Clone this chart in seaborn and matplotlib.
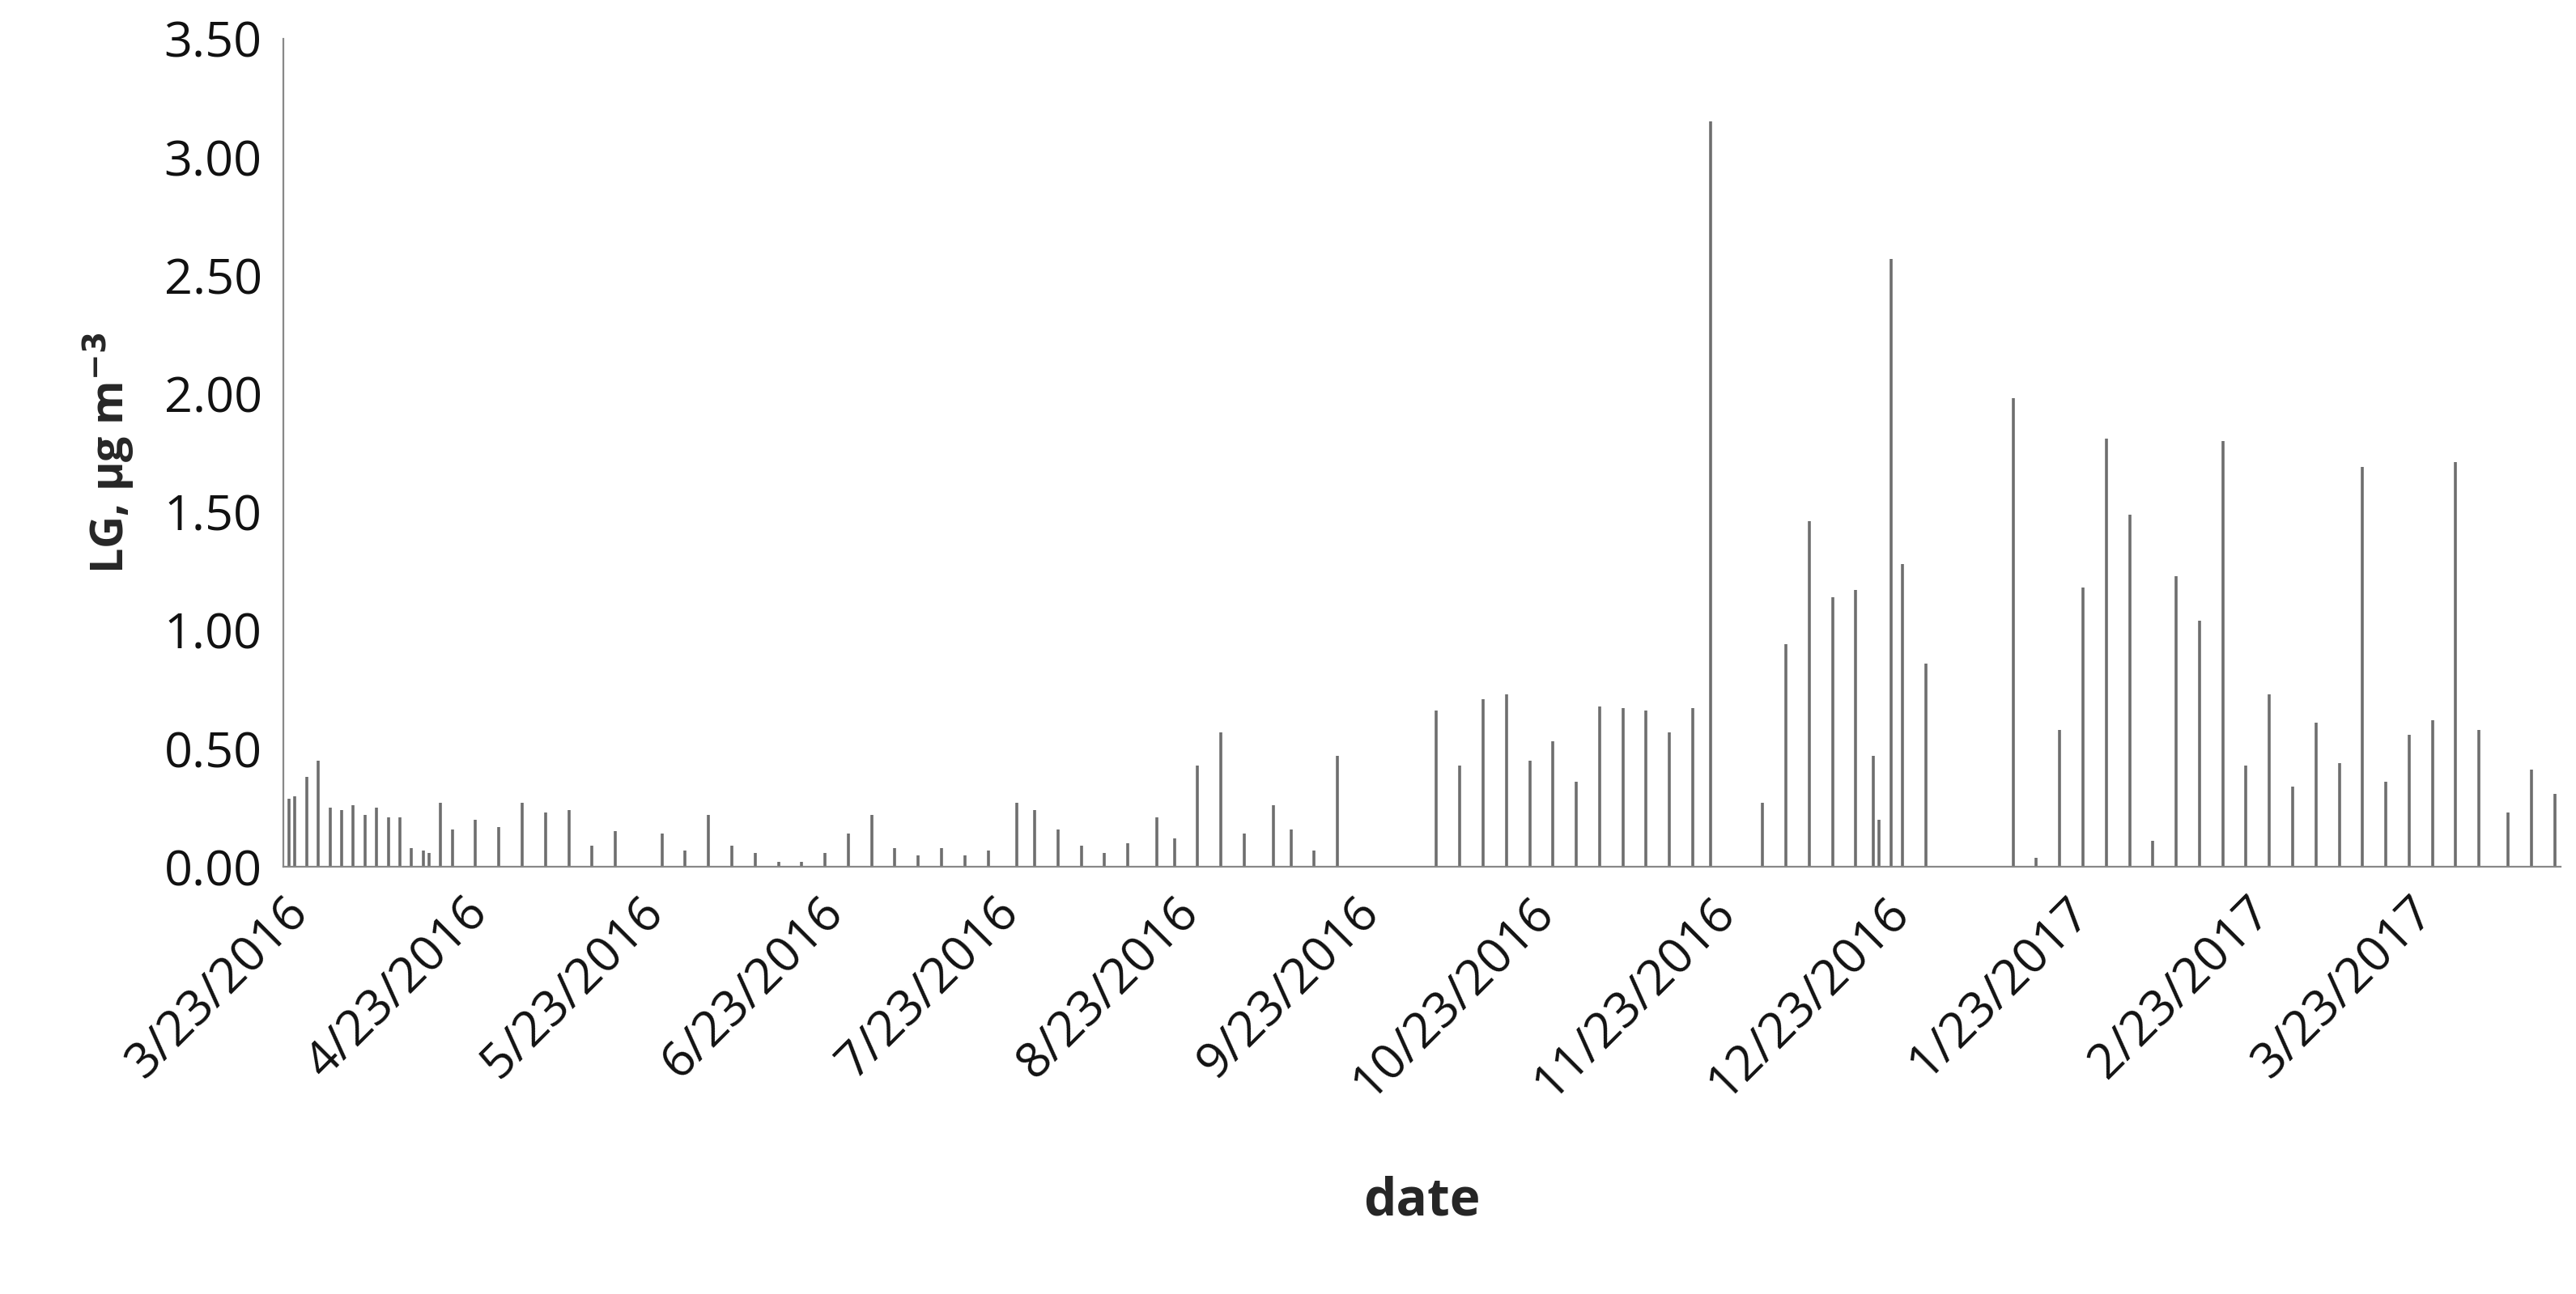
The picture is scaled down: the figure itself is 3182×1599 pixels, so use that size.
import pandas as pd
import numpy as np
import matplotlib.pyplot as plt
import seaborn as sns

# Days after 3/23/2016 and LG values (µg m-3)
day_offsets = [1, 2, 4, 6, 8, 10, 12, 14, 16, 18, 20, 22, 24, 25, 27, 29, 33, 37, 41, 45,
               49, 53, 57, 65, 69, 73, 77, 81, 85, 89, 93, 97, 101, 105, 109, 113, 117, 121,
               126, 129, 133, 137, 141, 145, 150, 153, 157, 161, 165, 170, 173, 177, 181,
               198, 202, 206, 210, 214, 218, 222, 226, 230, 234, 238, 242, 245, 254, 258,
               262, 266, 270, 273, 274, 276, 278, 282, 297, 301, 305, 309, 313, 317, 321,
               325, 329, 333, 337, 341, 345, 349, 353, 357, 361, 365, 369, 373, 377, 382,
               386, 390]
lg_values = [0.29, 0.30, 0.38, 0.45, 0.25, 0.24, 0.26, 0.22, 0.25, 0.21, 0.21, 0.08, 0.07,
             0.06, 0.27, 0.16, 0.20, 0.17, 0.27, 0.23, 0.24, 0.09, 0.15, 0.14, 0.07, 0.22,
             0.09, 0.06, 0.02, 0.02, 0.06, 0.14, 0.22, 0.08, 0.05, 0.08, 0.05, 0.07, 0.27,
             0.24, 0.16, 0.09, 0.06, 0.10, 0.21, 0.12, 0.43, 0.57, 0.14, 0.26, 0.16, 0.07,
             0.47, 0.66, 0.43, 0.71, 0.73, 0.45, 0.53, 0.36, 0.68, 0.67, 0.66, 0.57, 0.67,
             3.15, 0.27, 0.94, 1.46, 1.14, 1.17, 0.47, 0.20, 2.57, 1.28, 0.86, 1.98, 0.04,
             0.58, 1.18, 1.81, 1.49, 0.11, 1.23, 1.04, 1.80, 0.43, 0.73, 0.34, 0.61, 0.44,
             1.69, 0.36, 0.56, 0.62, 1.71, 0.58, 0.23, 0.41, 0.31]

start = pd.Timestamp("2016-03-23")
df = pd.DataFrame({
    "date": start + pd.to_timedelta(day_offsets, unit="D"),
    "LG": lg_values,
})

sns.set_style("white")
plt.rcParams['font.family'] = ['Open Sans', 'DejaVu Sans']

fig = plt.figure(figsize=(15.91, 7.995), dpi=200)
ax = fig.add_axes([0.11, 0.33, 0.884, 0.64])

ax.vlines(df["date"], 0, df["LG"], color="#6e6e6e", linewidth=1.3)

ax.set_xlim(start, start + pd.Timedelta(days=391))
ax.set_ylim(0, 3.5)
yt = np.arange(0, 3.51, 0.5)
ax.set_yticks(yt)
ax.set_yticklabels([f"{v:.2f}" for v in yt], fontsize=22, color="#111111")

ticks = pd.date_range(start, periods=13, freq=pd.DateOffset(months=1))
ax.set_xticks(ticks)
ax.set_xticklabels([f"{d.month}/{d.day}/{d.year}" for d in ticks],
                   rotation=45, ha="right", rotation_mode="anchor", fontsize=22,
                   color="#111111")
ax.tick_params(axis="both", length=6, color="#888888", direction="out")

for side in ["top", "right"]:
    ax.spines[side].set_visible(False)
for side in ["left", "bottom"]:
    ax.spines[side].set_color("#888888")

ax.set_xlabel("date", fontsize=23, fontweight="bold", labelpad=30)
ax.set_ylabel("LG, µg m$^{\\mathbf{-3}}$", fontsize=20, fontweight="bold", labelpad=12)

fig.savefig("out.png", dpi=200)
